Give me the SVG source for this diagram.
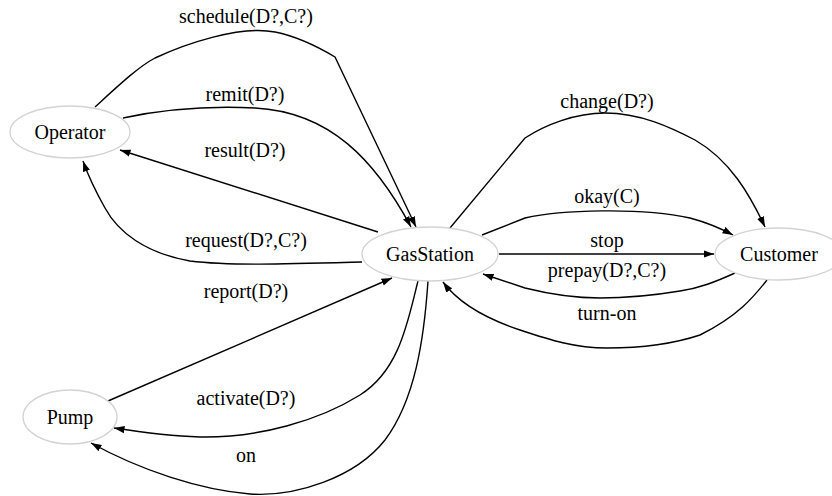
<svg xmlns="http://www.w3.org/2000/svg" width="832" height="496" viewBox="0 0 832 496">
  <style>
    .node ellipse { fill: #ffffff; stroke: #d3d3d3; stroke-width: 1.3; }
    text { font-family: "Liberation Serif", "Times New Roman", serif; font-size: 20px; fill: #000000; text-anchor: middle; }
    .edge path { fill: none; stroke: #000000; stroke-width: 1.4; marker-end: url(#arrow); }
  </style>
  <defs>
    <marker id="arrow" markerWidth="11" markerHeight="8" refX="10.5" refY="4" orient="auto" markerUnits="userSpaceOnUse">
      <path d="M0,0.4 L10.5,4 L0,7.6 z" fill="#000000"/>
    </marker>
  </defs>
  <rect width="832" height="496" fill="#ffffff"/>

  <!-- connectors -->
  <g id="edges">
    <g class="edge" id="e-schedule">
      <path d="M95,107 C118,86 138,67 155,58 C185,44 240,25 275,32 C300,37 320,48 335,57 L416,227"/>
      <text x="246" y="23">schedule(D?,C?)</text>
    </g>
    <g class="edge" id="e-remit">
      <path d="M123,118 C170,108 215,106 255,108 C330,112 375,160 411,227"/>
      <text x="245" y="101">remit(D?)</text>
    </g>
    <g class="edge" id="e-result">
      <path d="M378,232 L120,150"/>
      <text x="245" y="157">result(D?)</text>
    </g>
    <g class="edge" id="e-request">
      <path d="M362,262 C290,264 230,266 190,261 C145,253 118,232 105,208 C96,192 89,178 83,161"/>
      <text x="246" y="247">request(D?,C?)</text>
    </g>
    <g class="edge" id="e-report">
      <path d="M108,401 L392,278"/>
      <text x="246" y="298">report(D?)</text>
    </g>
    <g class="edge" id="e-activate">
      <path d="M418,281 C408,320 400,370 360,395 C320,420 260,438 200,437 C170,436 140,432 114,428"/>
      <text x="246" y="405">activate(D?)</text>
    </g>
    <g class="edge" id="e-on">
      <path d="M428,281 C424,340 415,400 385,440 C355,478 295,497 250,494 C200,490 140,470 91,443"/>
      <text x="246" y="462">on</text>
    </g>
    <g class="edge" id="e-change">
      <path d="M450,228 L525,138 C545,125 575,113 605,113 C640,113 670,127 695,140 C730,160 750,195 765,227"/>
      <text x="607" y="108">change(D?)</text>
    </g>
    <g class="edge" id="e-okay">
      <path d="M482,235 L525,218 C560,210 640,207 690,218 C705,222 720,228 733,235"/>
      <text x="607" y="203">okay(C)</text>
    </g>
    <g class="edge" id="e-stop">
      <path d="M499,254 L714,254"/>
      <text x="607" y="247">stop</text>
    </g>
    <g class="edge" id="e-prepay">
      <path d="M735,273 C715,282 700,288 680,291 C650,296 620,298 600,298 C570,298 545,293 525,288 L483,274"/>
      <text x="607" y="277">prepay(D?,C?)</text>
    </g>
    <g class="edge" id="e-turnon">
      <path d="M767,280 C755,295 740,315 700,335 C670,345 640,348 607,348 C575,348 550,340 520,330 C490,320 460,305 443,282"/>
      <text x="607" y="320">turn-on</text>
    </g>
  </g>

  <!-- nodes -->
  <g class="node" id="Operator">
    <ellipse cx="70" cy="132" rx="60" ry="26"/>
    <text x="70" y="139">Operator</text>
  </g>
  <g class="node" id="GasStation">
    <ellipse cx="430" cy="254" rx="68" ry="27"/>
    <text x="430" y="261">GasStation</text>
  </g>
  <g class="node" id="Customer">
    <ellipse cx="779" cy="254" rx="64" ry="26"/>
    <text x="779" y="261">Customer</text>
  </g>
  <g class="node" id="Pump">
    <ellipse cx="70" cy="417" rx="47" ry="27"/>
    <text x="70" y="424">Pump</text>
  </g>
</svg>
